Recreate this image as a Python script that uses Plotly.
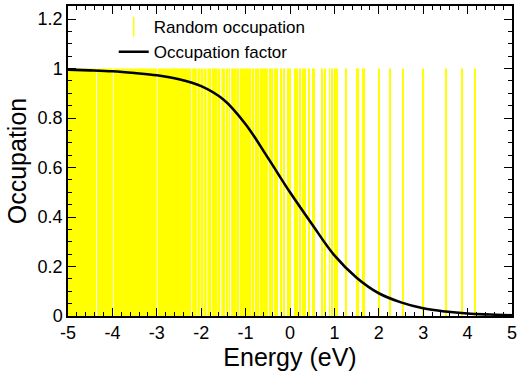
import plotly.graph_objects as go

# Occupation factor curve
energy_curve = [-5.0, -4.5, -4.0, -3.5, -3.0, -2.5, -2.0, -1.5, -1.0, -0.5, 0.0,
                0.5, 1.0, 1.5, 2.0, 2.5, 3.0, 3.5, 4.0, 4.5, 5.0]
occupation_curve = [0.996, 0.993, 0.989, 0.982, 0.973, 0.957, 0.929, 0.875, 0.775, 0.64, 0.50,
                    0.37, 0.245, 0.155, 0.092, 0.055, 0.031, 0.018, 0.010, 0.006, 0.003]

# Random occupation: occupied energy intervals (eV), lower and upper edges
occ_lo = [-5.00, -4.345, -3.97, -2.98, -2.205, -2.085, -2.015, -1.935, -1.86, -1.755,
          -1.61, -1.545, -1.445, -1.37, -1.325, -1.185, -1.13, -0.84, -0.79, -0.665,
          -0.635, -0.47, -0.41, -0.355, -0.30, -0.21, -0.14, -0.06, -0.01, 0.10,
          0.15, 0.22, 0.28, 0.32, 0.42, 0.50, 0.54, 0.71, 0.78, 0.88,
          0.93, 1.01, 1.05, 1.25, 1.49, 1.515, 1.64, 1.665, 1.985, 2.24,
          2.525, 2.995, 3.505, 3.87, 4.15]
occ_hi = [-4.37, -3.99, -3.00, -2.225, -2.10, -2.03, -1.95, -1.88, -1.775, -1.63,
          -1.575, -1.465, -1.39, -1.355, -1.20, -1.165, -0.87, -0.815, -0.69, -0.65,
          -0.50, -0.45, -0.385, -0.335, -0.28, -0.19, -0.12, -0.04, 0.02, 0.12,
          0.175, 0.245, 0.30, 0.34, 0.44, 0.52, 0.56, 0.73, 0.80, 0.90,
          0.95, 1.035, 1.075, 1.275, 1.515, 1.54, 1.665, 1.69, 2.01, 2.265,
          2.55, 3.02, 3.53, 3.895, 4.175]
occ_value = [1] * len(occ_lo)

x_tick_vals = [-5, -4, -3, -2, -1, 0, 1, 2, 3, 4, 5]
x_tick_text = ["-5", "-4", "-3", "-2", "-1", "0", "1", "2", "3", "4", "5"]
y_tick_vals = [0, 0.2, 0.4, 0.6, 0.8, 1.0, 1.2]
y_tick_text = ["0", "0.2", "0.4", "0.6", "0.8", "1", "1.2"]

FONT = "Liberation Sans, Arial, Helvetica, sans-serif"
YELLOW = "#ffff00"

centers = [(a + b) / 2 for a, b in zip(occ_lo, occ_hi)]
widths = [b - a for a, b in zip(occ_lo, occ_hi)]

fig = go.Figure()
fig.add_trace(go.Bar(
    x=centers, y=occ_value, width=widths, base=0,
    marker=dict(color=YELLOW, line=dict(width=0)),
    showlegend=False, hoverinfo="skip",
))
fig.add_trace(go.Scatter(
    x=[None], y=[None], mode="markers", name="Random occupation",
    marker=dict(symbol="line-ns", size=14, color=YELLOW,
                line=dict(color=YELLOW, width=1.5)),
))
fig.add_trace(go.Scatter(
    x=energy_curve, y=occupation_curve, mode="lines", name="Occupation factor",
    line=dict(color="black", width=2.6, shape="spline", smoothing=1.0),
))

axis_common = dict(
    showgrid=False, zeroline=False, showline=True, linecolor="black", linewidth=1.5,
    mirror="ticks", ticks="inside", tickcolor="black", tickwidth=1.2,
    tickfont=dict(family=FONT, size=18, color="black"),
)

fig.update_xaxes(
    range=[-5, 5], tickmode="array", tickvals=x_tick_vals, ticktext=x_tick_text,
    ticklen=8, minor=dict(dtick=0.2, ticklen=4, ticks="inside", tickcolor="black", tickwidth=1),
    title=dict(text="Energy (eV)", font=dict(family=FONT, size=25, color="black"), standoff=2),
    **axis_common,
)
fig.update_yaxes(
    range=[0, 1.253], tickmode="array", tickvals=y_tick_vals, ticktext=y_tick_text,
    ticklen=8, minor=dict(dtick=0.05, ticklen=4, ticks="inside", tickcolor="black", tickwidth=1),
    title=dict(text="Occupation", font=dict(family=FONT, size=25, color="black"), standoff=4),
    **axis_common,
)

fig.update_layout(
    width=521, height=375,
    margin=dict(l=68, r=8, t=4, b=59),
    paper_bgcolor="white", plot_bgcolor="white",
    barmode="overlay",
    legend=dict(
        x=0.103, y=0.99, xanchor="left", yanchor="top",
        bgcolor="rgba(0,0,0,0)", borderwidth=0,
        font=dict(family=FONT, size=17, color="black"),
        itemwidth=30,
    ),
)

fig.write_html("out.html")
